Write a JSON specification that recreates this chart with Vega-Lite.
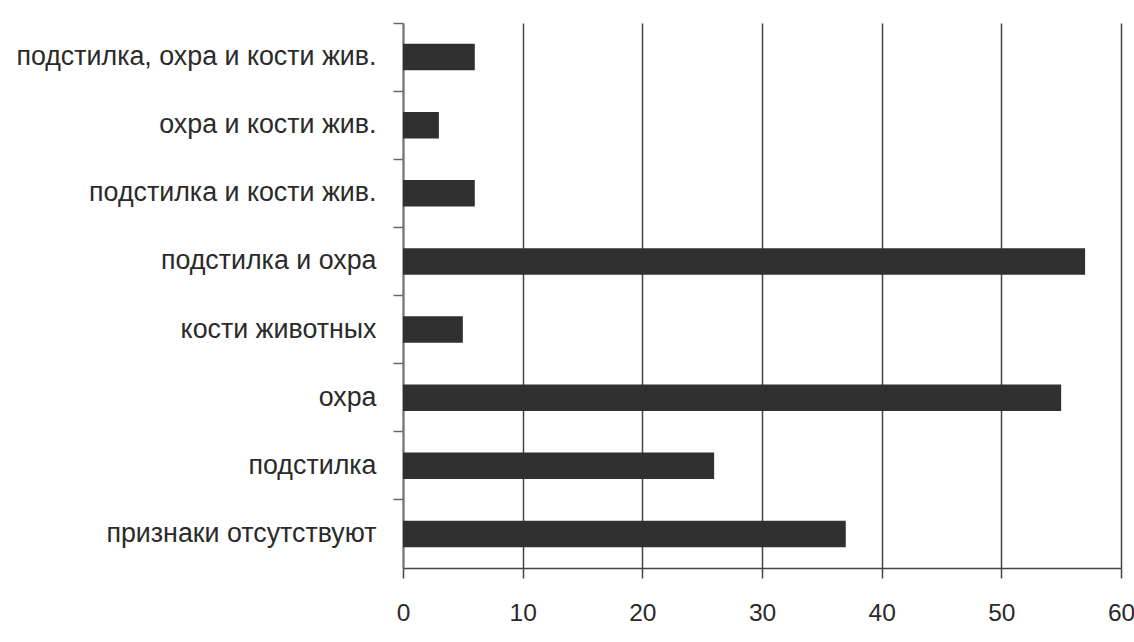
{
  "$schema": "https://vega.github.io/schema/vega-lite/v6.json",
  "autosize": "none",
  "width": 718,
  "height": 545,
  "padding": {"left": 403, "top": 23, "right": 13, "bottom": 74},
  "background": "white",
  "config": {
    "view": {"stroke": null},
    "font": "Liberation Sans"
  },
  "data": {
    "values": [
      {"category": "подстилка, охра и кости жив.", "value": 6},
      {"category": "охра и кости жив.", "value": 3},
      {"category": "подстилка и кости жив.", "value": 6},
      {"category": "подстилка и охра", "value": 57},
      {"category": "кости животных", "value": 5},
      {"category": "охра", "value": 55},
      {"category": "подстилка", "value": 26},
      {"category": "признаки отсутствуют", "value": 37}
    ]
  },
  "mark": {"type": "bar", "color": "#303030", "height": {"band": 0.39}},
  "encoding": {
    "y": {
      "field": "category",
      "type": "nominal",
      "sort": null,
      "scale": {"paddingInner": 0, "paddingOuter": 0},
      "axis": {
        "title": null,
        "bandPosition": 0,
        "labelFontSize": 26.8,
        "labelColor": "#2a2a2a",
        "labelPadding": 17,
        "tickSize": 10,
        "tickColor": "#666666",
        "tickWidth": 1.5,
        "domainColor": "#777777",
        "domainWidth": 2,
        "labelLimit": 500
      }
    },
    "x": {
      "field": "value",
      "type": "quantitative",
      "scale": {"domain": [0, 60], "nice": false},
      "axis": {
        "title": null,
        "values": [0, 10, 20, 30, 40, 50, 60],
        "grid": true,
        "gridColor": "#444444",
        "gridWidth": 1.5,
        "labelFontSize": 24.5,
        "labelColor": "#2a2a2a",
        "labelPadding": 23,
        "tickSize": 10,
        "tickColor": "#444444",
        "tickWidth": 1.5,
        "domainColor": "#444444",
        "domainWidth": 1.5,
        "labelFlush": false
      }
    }
  }
}
